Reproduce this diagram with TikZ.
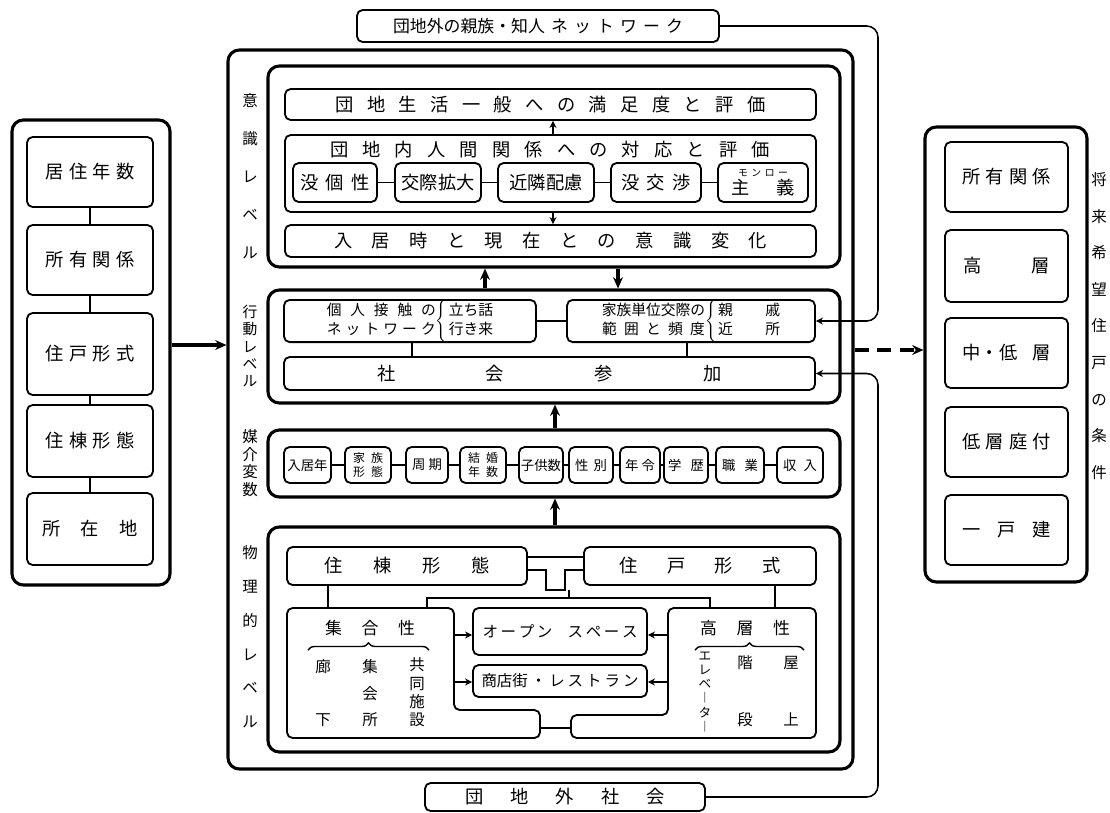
\documentclass[tikz,border=0pt]{standalone}
\usepackage{fontspec}
\setmainfont{Noto Sans CJK JP}
\usetikzlibrary{arrows.meta, positioning, decorations.pathreplacing}
\newlength\pxu
\setlength\pxu{0.025cm}
\newcommand\spr[2]{\makebox[#1\pxu][s]{#2}}
\tikzset{
  box/.style={draw, rounded corners=4pt, line width=1.3pt, inner sep=0pt,
              align=center, font=\fontsize{13}{15}\selectfont},
  grp/.style={draw, rounded corners=8pt, line width=2.2pt, inner sep=0pt},
  pbox/.style={draw, rounded corners=4pt, line width=1.3pt},
  sz/.style 2 args={minimum width=#1*0.025cm, minimum height=#2*0.025cm},
  link/.style={line width=1.1pt},
  arrow/.style={-{Stealth[length=8pt, width=7pt]}, line width=2.2pt},
  sarrow/.style={-{Stealth[length=5pt, width=5pt]}, line width=1.1pt},
  vlab/.style={align=center, inner sep=0pt},
  curly/.style={decorate, decoration={brace, amplitude=5pt}, line width=1pt},
}

\begin{document}
\begin{tikzpicture}[x=0.025cm, y=-0.025cm]
  \useasboundingbox (0,0) rectangle (1110,812);

  % present dwelling
  \node[grp, sz={158}{465}] (lgrp) at (91,352.5) {};
  \node[box, sz={126}{70}] (la) at (90,172) {\spr{89}{居 住 年 数}};
  \node[box, sz={126}{70}] (lb) at (90,260) {\spr{89}{所 有 関 係}};
  \node[box, sz={126}{82}] (lc) at (90,354) {\spr{89}{住 戸 形 式}};
  \node[box, sz={126}{72}] (ld) at (90,441) {\spr{89}{住 棟 形 態}};
  \node[box, sz={126}{72}] (le) at (90,529) {\spr{95}{所 在 地}};
  \foreach \a/\b in {la/lb, lb/lc, lc/ld, ld/le}
    \draw[link] (\a) -- (\b);

  % desired dwelling
  \node[grp, sz={162}{455}] (rgrp) at (1006,354.5) {};
  \node[box, sz={123}{70}] (ra) at (1006.5,177) {\spr{89}{所 有 関 係}};
  \node[box, sz={123}{72}] (rb) at (1006.5,266) {\spr{87}{高 層}};
  \node[box, sz={123}{70}] (rc) at (1006.5,353) {\spr{88}{中・低 層}};
  \node[box, sz={123}{70}] (rd) at (1006.5,442) {\spr{89}{低 層 庭 付}};
  \node[box, sz={123}{70}] (re) at (1006.5,530) {\spr{89}{一 戸 建}};
  \node[vlab, font=\fontsize{11}{26}\selectfont] (rlab) at (1099,326)
    {将\\来\\希\\望\\住\\戸\\の\\条\\件};

  % main frame
  \node[grp, sz={625}{719}] (main) at (540.5,409.5) {};
  \node[box, sz={362}{32}, font=\fontsize{12}{14}\selectfont] (ext1) at (538,26)
    {\spr{290}{団地外の親族・知人 ネ ッ ト ワ ー ク}};
  \node[box, sz={280}{28}] (ext2) at (565,797) {\spr{200}{団 地 外 社 会}};

  % level labels
  \node[vlab, font=\fontsize{11}{27}\selectfont] (t1) at (250,176) {意\\識\\レ\\ベ\\ル};
  \node[vlab, font=\fontsize{10.5}{12.2}\selectfont] (t2) at (250,346) {行\\動\\レ\\ベ\\ル};
  \node[vlab, font=\fontsize{11}{12.5}\selectfont] (t3) at (250,463) {媒\\介\\変\\数};
  \node[vlab, font=\fontsize{11}{24}\selectfont] (t4) at (250,637) {物\\理\\的\\レ\\ベ\\ル};

  % consciousness level
  \node[grp, sz={572}{201}] (lv1) at (554,166.5) {};
  \node[box, sz={531}{31}] (s1) at (550.5,104.5)
    {\spr{430}{団 地 生 活 一 般 へ の 満 足 度 と 評 価}};
  \node[box, sz={531}{77}] (s2) at (550.5,173.5) {};
  \node[font=\fontsize{13}{15}\selectfont, inner sep=0pt] (s2t) at (550,150)
    {\spr{440}{団 地 内 人 間 関 係 へ の 対 応 と 評 価}};
  \node[box, sz={531}{32}] (s3) at (550.5,241)
    {\spr{433}{入 居 時 と 現 在 と の 意 識 変 化}};
  \node[box, sz={84}{39}] (m1) at (335,182.5) {\spr{70}{没 個 性}};
  \node[box, sz={86}{39}] (m2) at (438,182.5) {交際拡大};
  \node[box, sz={96}{39}] (m3) at (546,182.5) {近隣配慮};
  \node[box, sz={90}{39}] (m4) at (656,182.5) {\spr{70}{没 交 渉}};
  \node[box, sz={90}{39}] (m5) at (763,182.5)
    {{\fontsize{7}{8}\selectfont\spr{50}{モ ン ロ ー}}\\[-2pt]\spr{64}{主 義}};
  \foreach \a/\b in {m1/m2, m2/m3, m3/m4, m4/m5}
    \draw[link] (\a) -- (\b);
  \coordinate (cx) at (553,0);
  \draw[sarrow] (s2.north -| cx) -- (s1.south -| cx);
  \draw[sarrow] (s2.south -| cx) -- (s3.north -| cx);

  % behaviour level
  \node[grp, sz={572}{113}] (lv2) at (554,346.5) {};
  \node[box, sz={252}{42}, font=\fontsize{10.5}{14}\selectfont] (per) at (410,321)
    {\begin{tabular}{@{}c@{}}\spr{109}{個 人 接 触 の}\\\spr{109}{ネ ッ ト ワ ー ク}\end{tabular}%
     $\left\{\vphantom{\begin{tabular}{c}X\\X\end{tabular}}\right.$%
     \begin{tabular}{@{}l@{}}立ち話\\行き来\end{tabular}};
  \node[box, sz={248}{42}, font=\fontsize{10.5}{14}\selectfont] (fam) at (691,321)
    {\begin{tabular}{@{}c@{}}家族単位交際の\\\spr{103}{範 囲 と 頻 度}\end{tabular}%
     $\left\{\vphantom{\begin{tabular}{c}X\\X\end{tabular}}\right.$%
     \begin{tabular}{@{}l@{}}\spr{62}{親 戚}\\\spr{62}{近 所}\end{tabular}};
  \node[box, sz={531}{33}] (soc) at (549.5,373.5) {\spr{345}{社 会 参 加}};
  \draw[link] (per) -- (fam);
  \coordinate (pa) at (412,0);
  \coordinate (pb) at (687,0);
  \draw[link] (per.south -| pa) -- (soc.north -| pa);
  \draw[link] (fam.south -| pb) -- (soc.north -| pb);

  % mediating variables
  \node[grp, sz={572}{67}] (lv3) at (554,463.5) {};
  \node[box, sz={47}{36}, font=\fontsize{9.5}{11}\selectfont] (v1) at (307.5,465) {入居年};
  \node[box, sz={46}{36}, font=\fontsize{8.5}{10}\selectfont] (v2) at (368,465)
    {\spr{30}{家 族}\\\spr{30}{形 態}};
  \node[box, sz={42}{36}, font=\fontsize{9.5}{11}\selectfont] (v3) at (427,465) {\spr{30}{周 期}};
  \node[box, sz={46}{36}, font=\fontsize{8.5}{10}\selectfont] (v4) at (483,465)
    {\spr{30}{結 婚}\\\spr{30}{年 数}};
  \node[box, sz={44}{36}, font=\fontsize{9.5}{11}\selectfont] (v5) at (541,465) {子供数};
  \node[box, sz={44}{36}, font=\fontsize{9.5}{11}\selectfont] (v6) at (591,465) {\spr{32}{性 別}};
  \node[box, sz={40}{36}, font=\fontsize{9.5}{11}\selectfont] (v7) at (640,465) {\spr{30}{年 令}};
  \node[box, sz={44}{36}, font=\fontsize{9.5}{11}\selectfont] (v8) at (686,465) {\spr{36}{学 歴}};
  \node[box, sz={48}{36}, font=\fontsize{9.5}{11}\selectfont] (v9) at (740,465) {\spr{36}{職 業}};
  \node[box, sz={46}{36}, font=\fontsize{9.5}{11}\selectfont] (v10) at (800,465) {\spr{34}{収 入}};
  \foreach \a/\b in {v1/v2, v2/v3, v3/v4, v4/v5, v5/v6, v6/v7, v7/v8, v8/v9, v9/v10}
    \draw[link] (\a) -- (\b);

  % physical level
  \node[grp, sz={572}{225}] (lv4) at (554,639.5) {};
  \node[box, sz={240}{38}] (bld) at (407,566) {\spr{166}{住 棟 形 態}};
  \node[box, sz={232}{38}] (unit) at (700,566) {\spr{161}{住 戸 形 式}};
  \draw[pbox] (370,608) -- (454,608) -- (454,710) -- (540,710) -- (540,738)
    -- (287,738) -- (287,608) -- cycle;
  \draw[pbox] (740,608) -- (816,608) -- (816,738) -- (571,738) -- (571,715)
    -- (668,715) -- (668,608) -- cycle;
  \node[box, sz={174}{47}, font=\fontsize{11}{13}\selectfont] (open) at (560,631.5)
    {\spr{155}{オ ー プ ン \hspace{10\pxu} ス ペ ー ス}};
  \node[box, sz={174}{32}, font=\fontsize{11}{13}\selectfont] (shop) at (560,681)
    {\spr{157}{商店街 ・ レ ス ト ラ ン}};

  \coordinate (j1) at (0,557);
  \coordinate (j4) at (0,570);
  \coordinate (j2) at (546,590);
  \coordinate (j3) at (565,590);
  \coordinate (j5) at (569,598);
  \coordinate (b1) at (328,608);
  \coordinate (b2) at (775,608);
  \coordinate (c1) at (427,608);
  \coordinate (c2) at (710,608);
  \draw[link] (bld.east |- j1) -- (unit.west |- j1);
  \draw[link] (bld.east |- j4) -| (j2) -- (j3) |- (unit.west |- j4);
  \draw[link] (j5 |- j3) -- (j5);
  \draw[link] (c1) |- (j5) -| (c2);
  \draw[link] (bld.south -| b1) -- (b1);
  \draw[link] (unit.south -| b2) -- (b2);
  \coordinate (e1) at (540,728);
  \coordinate (e2) at (571,728);
  \draw[link] (e1) -- (e2);

  \coordinate (a1) at (454,635);
  \coordinate (a2) at (454,682);
  \coordinate (a3) at (668,635);
  \coordinate (a4) at (668,682);
  \draw[sarrow] (a1) -- (open.west |- a1);
  \draw[sarrow] (a2) -- (shop.west |- a2);
  \draw[sarrow] (a3) -- (open.east |- a3);
  \draw[sarrow] (a4) -- (shop.east |- a4);

  \node[inner sep=0pt] (colt) at (370,628) {\fontsize{12}{14}\selectfont\spr{90}{集 合 性}};
  \draw[curly] (308,650) -- (429,650);
  \node[vlab, font=\fontsize{11}{37.7}\selectfont] (k1) at (323,693.5) {廊\\下};
  \node[vlab, font=\fontsize{11}{18.8}\selectfont] (k2) at (370,693.5) {集\\会\\所};
  \node[vlab, font=\fontsize{11}{13}\selectfont] (k3) at (417,692.5) {共\\同\\施\\設};

  \node[inner sep=0pt] (hit) at (745,628) {\fontsize{12}{14}\selectfont\spr{90}{高 層 性}};
  \draw[curly] (695,650) -- (804,650);
  \node[vlab, font=\fontsize{9}{10}\selectfont] (h1) at (705,692) {エ\\レ\\ベ\\︱\\タ\\︱};
  \node[vlab, font=\fontsize{11}{40.5}\selectfont] (h2) at (745,691.5) {階\\段};
  \node[vlab, font=\fontsize{11}{40.5}\selectfont] (h3) at (791,691.5) {屋\\上};

  % level arrows
  \coordinate (ua) at (485,0);
  \coordinate (da) at (618,0);
  \coordinate (cm) at (555,0);
  \draw[arrow] (lv2.north -| ua) -- (lv1.south -| ua);
  \draw[arrow] (lv1.south -| da) -- (lv2.north -| da);
  \draw[arrow] (lv3.north -| cm) -- (lv2.south -| cm);
  \draw[arrow] (lv4.north -| cm) -- (lv3.south -| cm);

  % outside links
  \coordinate (ly) at (0,345);
  \coordinate (dy) at (0,350);
  \coordinate (rt) at (878,0);
  \draw[arrow] (lgrp.east |- ly) -- (main.west |- ly);
  \draw[arrow, dash pattern=on 10pt off 6pt] (main.east |- dy) -- (rgrp.west |- dy);
  \draw[sarrow, rounded corners=8pt] (ext1.east) -- (ext1.east -| rt) -- (rt |- fam.east) -- (fam.east);
  \draw[sarrow, rounded corners=8pt] (ext2.east) -- (ext2.east -| rt) -- (rt |- soc.east) -- (soc.east);
\end{tikzpicture}
\end{document}
